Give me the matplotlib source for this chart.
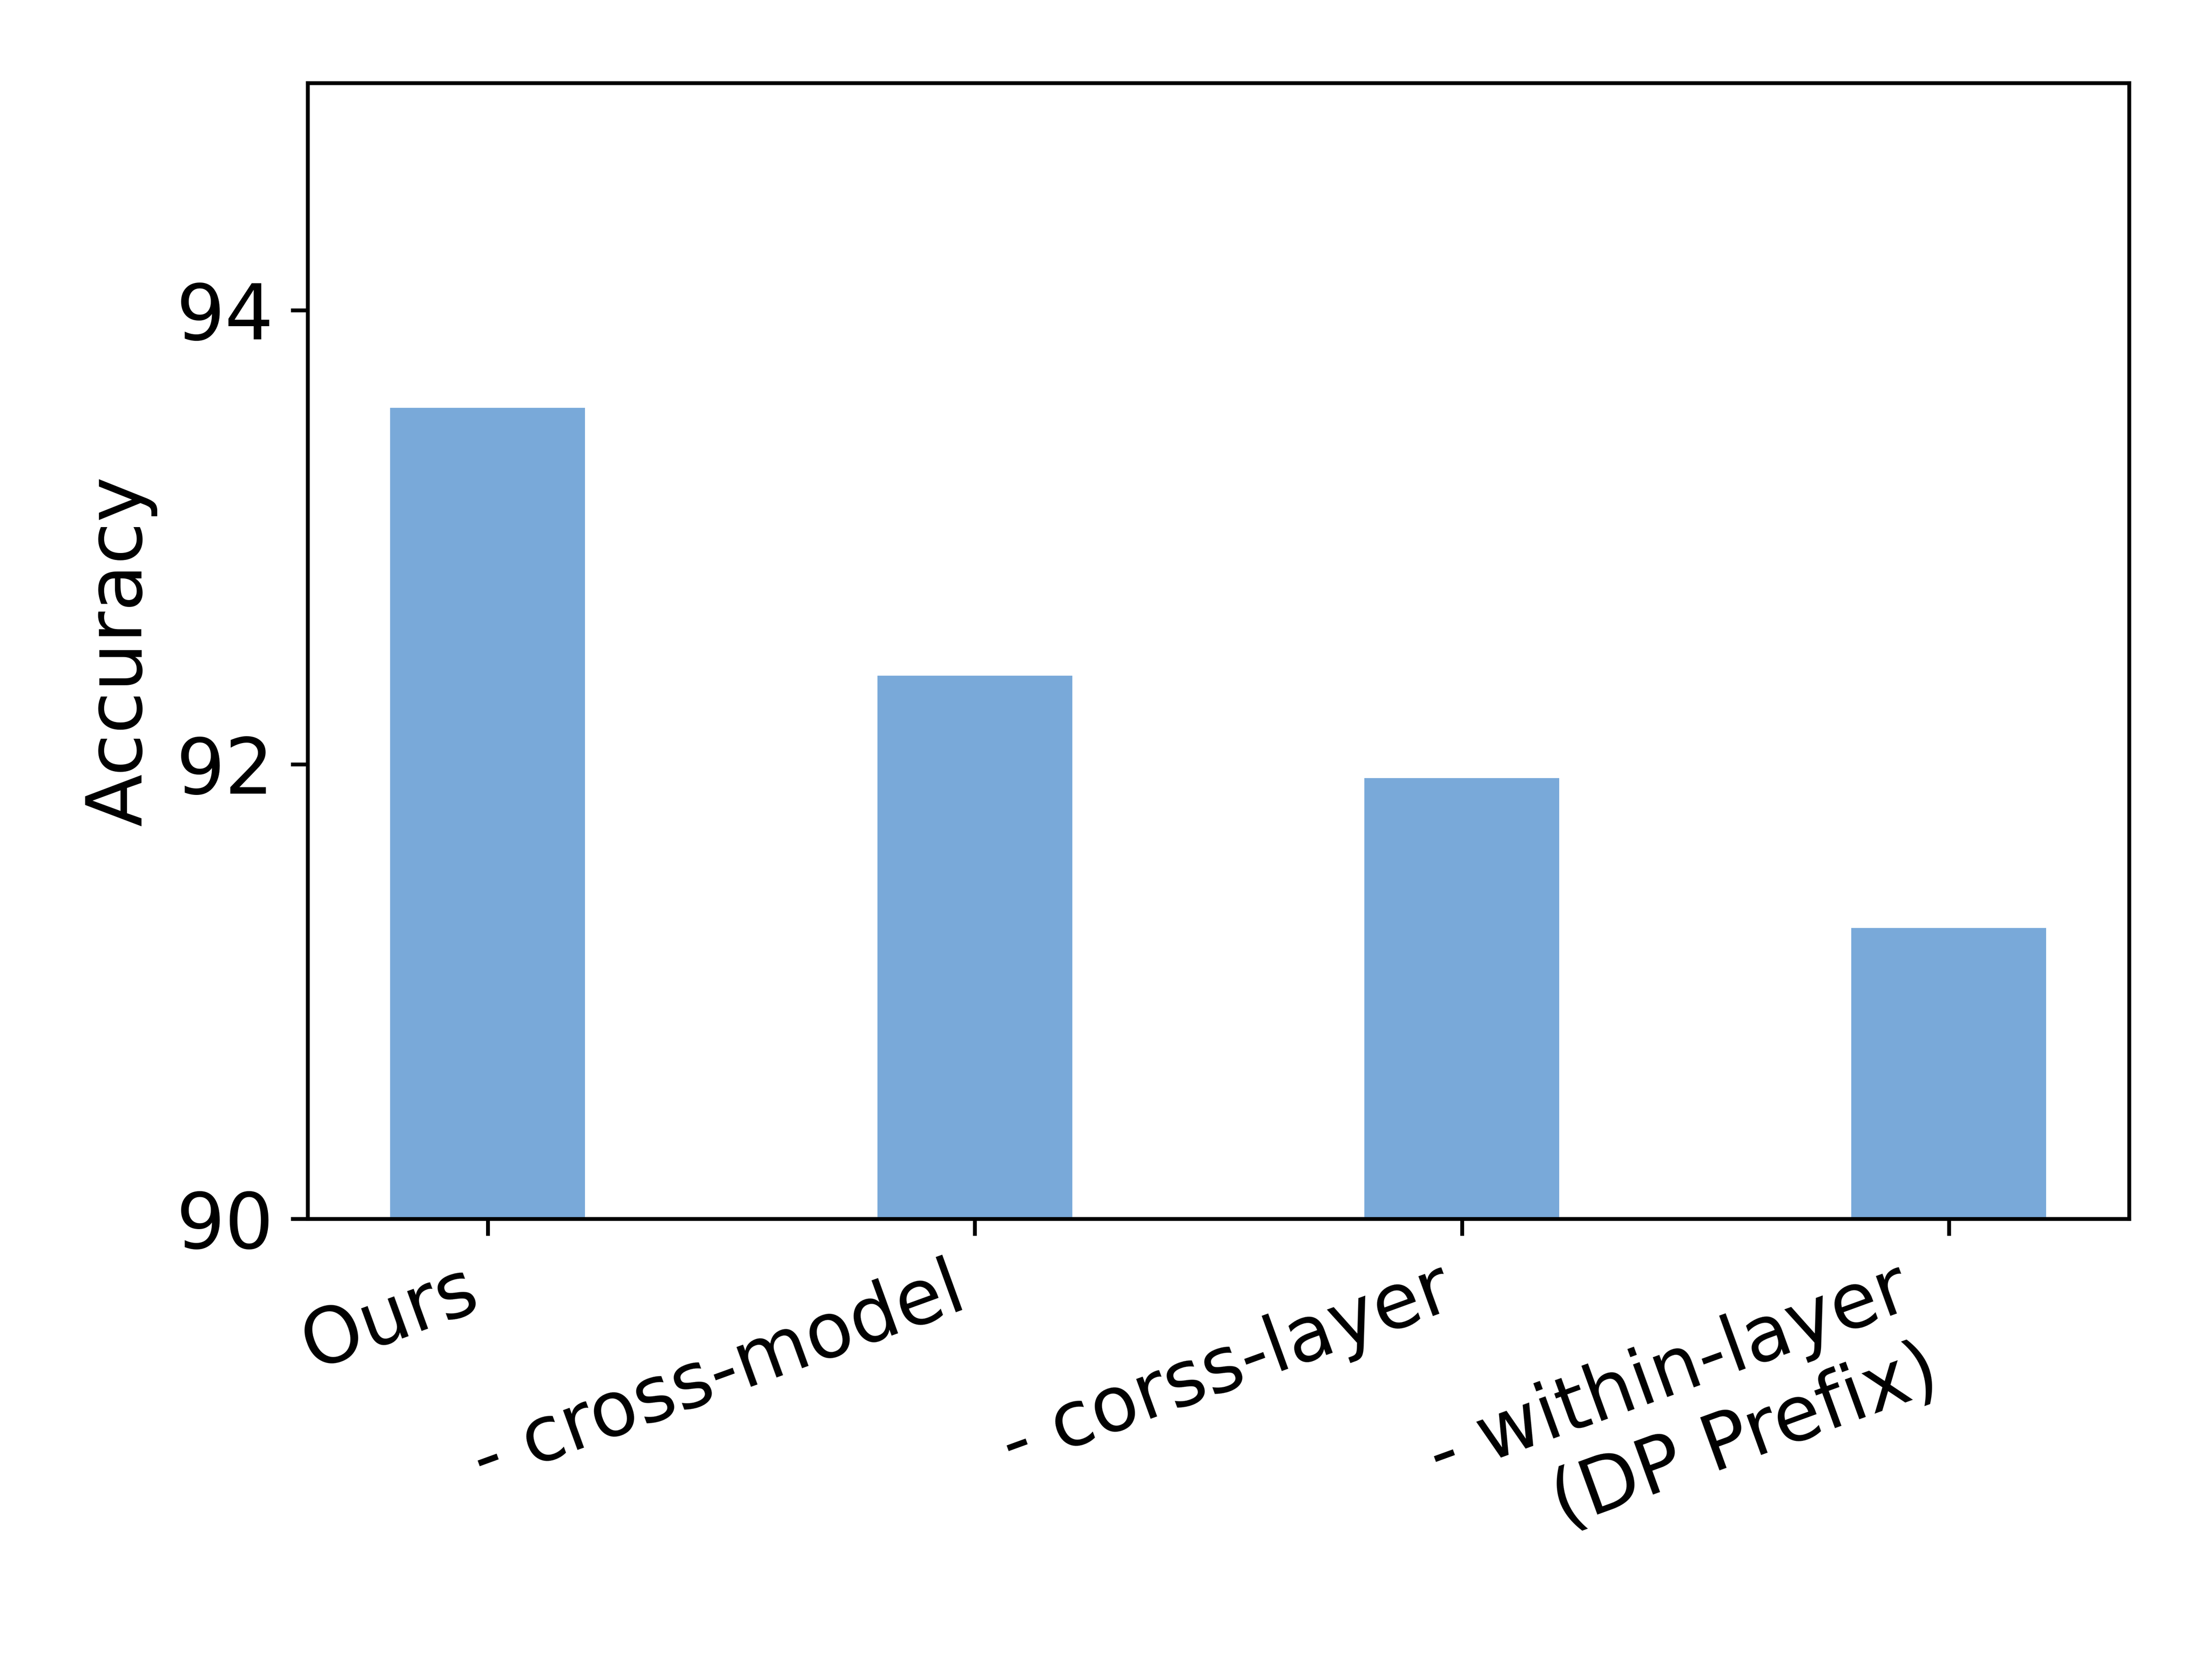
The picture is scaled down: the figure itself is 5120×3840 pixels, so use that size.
import matplotlib
matplotlib.use("Agg")
import matplotlib.pyplot as plt

# ablation results
methods = ["Ours", "- cross-model", "- corss-layer", "- within-layer\n(DP Prefix)"]
accuracy = [93.57, 92.39, 91.94, 91.28]

fig, ax = plt.subplots(figsize=(6.4, 4.8), dpi=800)
fig.subplots_adjust(left=0.139, right=0.9625, bottom=0.2654, top=0.950)

ax.bar(range(len(methods)), accuracy, width=0.4, color="#79a9d9")
ax.set_ylim(90, 95)
ax.set_yticks([90, 92, 94])
ax.set_xticks(range(len(methods)))
ax.set_xticklabels(methods, rotation=20, ha="right", fontsize=16)
ax.tick_params(axis="y", labelsize=16)
ax.set_ylabel("Accuracy", fontsize=16)

fig.savefig("out.png", dpi=800)
